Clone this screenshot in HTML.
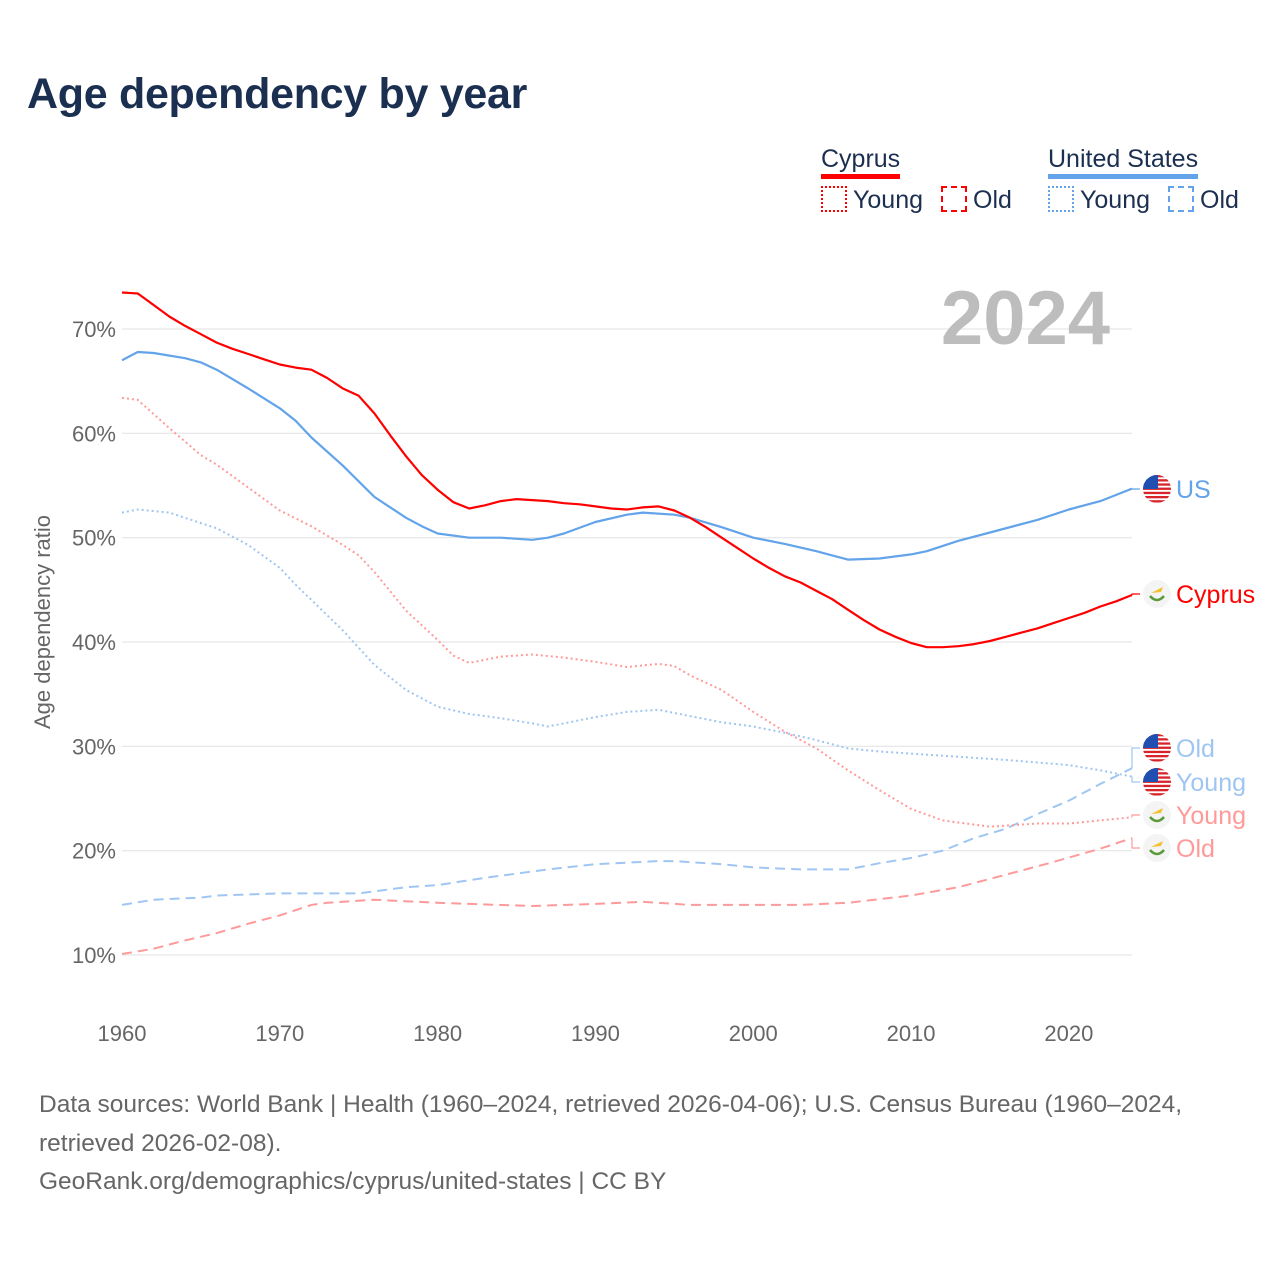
<!DOCTYPE html>
<html><head><meta charset="utf-8"><style>
body{margin:0;background:#fff;font-family:"Liberation Sans",sans-serif;}
#wrap{position:relative;width:1280px;height:1280px;overflow:hidden;}
.t{position:absolute;white-space:nowrap;}
</style></head><body>
<div id="wrap">
<div class="t" style="left:27px;top:70px;font-size:43px;font-weight:bold;color:#1b2f50;letter-spacing:-0.3px;">Age dependency by year</div>
<div class="t" style="left:821px;top:144px;font-size:25px;color:#1b2f50;border-bottom:5px solid #f00;line-height:30px;">Cyprus</div>
<div class="t" style="left:1048px;top:144px;font-size:25px;color:#1b2f50;border-bottom:5px solid #62a3ea;line-height:30px;">United States</div>
<div class="t" style="left:821px;top:186px;font-size:25px;color:#1b2f50;"><span style="display:inline-block;width:22px;height:22px;border:2px dotted #f00;vertical-align:-4px;margin-right:6px"></span>Young</div>
<div class="t" style="left:941px;top:186px;font-size:25px;color:#1b2f50;"><span style="display:inline-block;width:22px;height:22px;border:2px dashed #f00;vertical-align:-4px;margin-right:6px"></span>Old</div>
<div class="t" style="left:1048px;top:186px;font-size:25px;color:#1b2f50;"><span style="display:inline-block;width:22px;height:22px;border:2px dotted #62a3ea;vertical-align:-4px;margin-right:6px"></span>Young</div>
<div class="t" style="left:1168px;top:186px;font-size:25px;color:#1b2f50;"><span style="display:inline-block;width:22px;height:22px;border:2px dashed #62a3ea;vertical-align:-4px;margin-right:6px"></span>Old</div>
<svg id="chart" width="1280" height="1280" style="position:absolute;left:0;top:0"></svg>
<div class="t" style="left:39px;top:1086px;font-size:24.5px;color:#666;line-height:38.5px;">Data sources: World Bank | Health (1960–2024, retrieved 2026-04-06); U.S. Census Bureau (1960–2024,<br>retrieved 2026-02-08).<br>GeoRank.org/demographics/cyprus/united-states | CC BY</div>
</div>
<script>
const yTicks=[10,20,30,40,50,60,70];
const xTicks=[1960,1970,1980,1990,2000,2010,2020];
const cyTotYears=[1960,1961,1962,1963,1964,1965,1966,1967,1968,1969,1970,1971,1972,1973,1974,1975,1976,1977,1978,1979,1980,1981,1982,1983,1984,1985,1986,1987,1988,1989,1990,1991,1992,1993,1994,1995,1996,1997,1998,1999,2000,2001,2002,2003,2004,2005,2006,2007,2008,2009,2010,2011,2012,2013,2014,2015,2016,2017,2018,2019,2020,2021,2022,2023,2024];
const cyTotal=[73.5,73.4,72.3,71.2,70.3,69.5,68.7,68.1,67.6,67.1,66.6,66.3,66.1,65.3,64.3,63.6,61.9,59.8,57.8,56.0,54.6,53.4,52.8,53.1,53.5,53.7,53.6,53.5,53.3,53.2,53.0,52.8,52.7,52.9,53.0,52.6,51.9,51.0,50.0,49.0,48.0,47.1,46.3,45.7,44.9,44.1,43.1,42.1,41.2,40.5,39.9,39.5,39.5,39.6,39.8,40.1,40.5,40.9,41.3,41.8,42.3,42.8,43.4,43.9,44.5];
const usTotYears=[1960,1961,1962,1964,1965,1966,1968,1970,1971,1972,1974,1976,1978,1979,1980,1982,1984,1986,1987,1988,1990,1992,1993,1995,1996,1998,2000,2002,2004,2005,2006,2008,2010,2011,2013,2015,2018,2020,2022,2024];
const usTotal=[67.0,67.8,67.7,67.2,66.8,66.1,64.3,62.4,61.2,59.6,56.9,53.9,51.9,51.1,50.4,50.0,50.0,49.8,50.0,50.4,51.5,52.2,52.4,52.2,51.9,51.0,50.0,49.4,48.7,48.3,47.9,48.0,48.4,48.7,49.7,50.5,51.7,52.7,53.5,54.7];
const cyYoungYears=[1960,1961,1963,1965,1966,1970,1972,1974,1975,1976,1978,1980,1981,1982,1984,1986,1988,1990,1992,1994,1995,1996,1998,2000,2002,2004,2006,2008,2010,2012,2015,2018,2020,2022,2024];
const cyYoung=[63.4,63.2,60.5,57.9,57.0,52.6,51.1,49.3,48.3,46.7,43.0,40.2,38.7,38.0,38.6,38.8,38.5,38.1,37.6,37.9,37.7,36.8,35.4,33.3,31.4,29.8,27.7,25.8,24.0,22.9,22.3,22.6,22.6,22.9,23.2];
const usYoungYears=[1960,1961,1963,1966,1968,1970,1971,1974,1976,1978,1980,1982,1984,1986,1987,1990,1992,1994,1996,1998,2000,2002,2004,2006,2008,2010,2013,2016,2020,2022,2024];
const usYoung=[52.4,52.7,52.4,50.9,49.3,47.1,45.5,41.1,37.8,35.4,33.8,33.1,32.7,32.2,31.9,32.8,33.3,33.5,32.9,32.3,31.9,31.3,30.6,29.8,29.5,29.3,29.0,28.7,28.2,27.7,27.1];
const usOldYears=[1960,1962,1965,1966,1970,1975,1978,1980,1983,1987,1990,1994,1995,1998,2000,2003,2006,2008,2010,2012,2014,2016,2018,2020,2022,2024];
const usOld=[14.8,15.3,15.5,15.7,15.9,15.9,16.5,16.7,17.4,18.2,18.7,19.0,19.0,18.7,18.4,18.2,18.2,18.8,19.3,20.0,21.2,22.1,23.5,24.8,26.4,27.9];
const cyOldYears=[1960,1962,1964,1966,1968,1970,1972,1973,1976,1980,1982,1986,1990,1993,1996,2000,2003,2006,2010,2013,2016,2019,2022,2024];
const cyOld=[10.1,10.6,11.4,12.1,13.0,13.8,14.8,15.0,15.3,15.0,14.9,14.7,14.9,15.1,14.8,14.8,14.8,15.0,15.7,16.5,17.7,18.9,20.2,21.2];

const NS='http://www.w3.org/2000/svg';
const svg=document.getElementById('chart');
const X=yr=>122+(yr-1960)*(1132-122)/64;
const Y=v=>955-(v-10)*(955-329)/60;
function mk(tag,attrs,parent){const e=document.createElementNS(NS,tag);for(const k in attrs)e.setAttribute(k,attrs[k]);(parent||svg).appendChild(e);return e;}
yTicks.forEach(v=>{
  const g=mk('line',{x1:122,x2:1132,y1:Y(v),y2:Y(v),stroke:'#e6e6e6','stroke-width':1.2});
  
  
  const t=mk('text',{x:116,y:Y(v)+8,'text-anchor':'end','font-size':22,fill:'#666','font-family':'Liberation Sans, sans-serif'});
  t.textContent=v+'%';
  
  
});
xTicks.forEach(yr=>{
  const t=mk('text',{x:X(yr),y:1041,'text-anchor':'middle','font-size':22,fill:'#666','font-family':'Liberation Sans, sans-serif'});
  t.textContent=yr;
  
  
});
const yt=mk('text',{x:0,y:0,transform:'translate(50,622) rotate(-90)','text-anchor':'middle','font-size':22,fill:'#666','font-family':'Liberation Sans, sans-serif'});
yt.textContent='Age dependency ratio';


const yr=mk('text',{x:1110,y:344,'text-anchor':'end','font-size':76,'font-weight':'bold',fill:'#bdbdbd','font-family':'Liberation Sans, sans-serif'});
yr.textContent='2024';



function series(years,vals,color,dash,w,name){
  const d=years.map((y,i)=>(i?'L':'M')+X(y).toFixed(1)+' '+Y(vals[i]).toFixed(1)).join(' ');
  const p=mk('path',{d:d,fill:'none',stroke:color,'stroke-width':w,'stroke-dasharray':dash,'stroke-linejoin':'round'});
  
  
}
series(cyOldYears,cyOld,'#ff9a9a','10 6',2,'cyprus-old-line');
series(usOldYears,usOld,'#9fc6f2','10 6',2,'us-old-line');
series(cyYoungYears,cyYoung,'#ff9a9a','2 3',2,'cyprus-young-line');
series(usYoungYears,usYoung,'#9fc6f2','2 3',2,'us-young-line');
series(usTotYears,usTotal,'#62a3ea','',2.2,'us-total-line');
series(cyTotYears,cyTotal,'#f00','',2.2,'cyprus-total-line');

const labels=[
 {txt:'US',y:489,col:'#62a3ea',flag:'us',vals:usTotal},
 {txt:'Cyprus',y:594,col:'#f00',flag:'cy',vals:cyTotal},
 {txt:'Old',y:748,col:'#9fc6f2',flag:'us',vals:usOld},
 {txt:'Young',y:782,col:'#9fc6f2',flag:'us',vals:usYoung},
 {txt:'Young',y:815,col:'#ff9a9a',flag:'cy',vals:cyYoung},
 {txt:'Old',y:848,col:'#ff9a9a',flag:'cy',vals:cyOld}];
labels.forEach((l,i)=>{
  const ey=Y(l.vals[l.vals.length-1]);
  const c=mk('path',{d:`M1132 ${ey} L1132 ${l.y} L1140 ${l.y}`,fill:'none',stroke:l.col,'stroke-width':1.2});
  
  
  const cx=1157;
  const cp=mk('clipPath',{id:'clip'+i});
  mk('circle',{cx:cx,cy:l.y,r:14},cp);
  const g=mk('g',{'clip-path':'url(#clip'+i+')'});
  if(l.flag==='us'){
    
    
    mk('rect',{x:cx-14,y:l.y-14,width:28,height:28,fill:'#fff'},g);
    for(let k=0;k<7;k++){mk('rect',{x:cx-14,y:l.y-14+k*4.2,width:28,height:2.3,fill:'#d8232a'},g);}
    mk('rect',{x:cx-14,y:l.y-14,width:15,height:14,fill:'#1f4fb0'},g);
  }else{
    
    
    mk('rect',{x:cx-14,y:l.y-14,width:28,height:28,fill:'#f4f4f4'},g);
    mk('path',{d:`M${cx-6} ${l.y-1} L${cx+6} ${l.y-7} L${cx+4} ${l.y-2} Z`,fill:'#f2c12e'},g);
    mk('path',{d:`M${cx-7} ${l.y+2} Q${cx} ${l.y+10} ${cx+7} ${l.y+2}`,fill:'none',stroke:'#5a9a3a','stroke-width':2.5},g);
  }
  const t=mk('text',{x:1176,y:l.y+9,'font-size':25,fill:l.col,'font-family':'Liberation Sans, sans-serif'});
  t.textContent=l.txt;
  
  
});
</script>
</body></html>
